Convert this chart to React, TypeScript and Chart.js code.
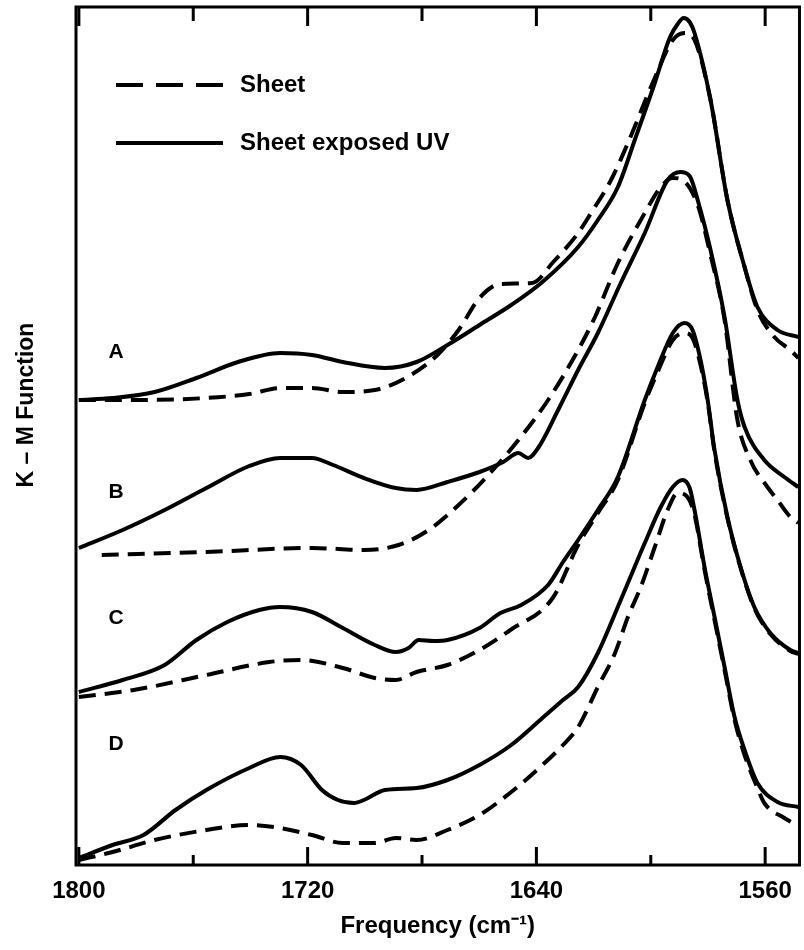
import React, { useEffect, useRef } from 'react';
import { Chart, registerables } from 'chart.js';

Chart.register(...registerables);

// ---- Data (frequency in cm^-1, K-M function in arbitrary units) ----
const aSheetX = [1800, 1780.8, 1755.4, 1740.4, 1729.6, 1718.5, 1707.7, 1696.5, 1685.7, 1674.6, 1667.2, 1659.9, 1652.6, 1641.5, 1634.1, 1625.4, 1620.9, 1613.9, 1608.0, 1598.6, 1592.3, 1588.2, 1584.7, 1579.1, 1573.2, 1567.2, 1562.7, 1556.8, 1551.2, 1548.4];
const aSheetY = [465, 465, 467, 471, 477, 477, 473, 475, 487, 510, 535, 567, 581, 582, 603, 632, 652, 685, 722, 787, 825, 832, 825, 765, 665, 598, 555, 528, 515, 507];
const aUvX = [1800, 1788.2, 1773.5, 1758.9, 1744.3, 1729.6, 1718.5, 1707.7, 1693.0, 1681.9, 1671.1, 1659.9, 1648.8, 1637.9, 1625.4, 1618.5, 1611.5, 1605.6, 1598.6, 1593.4, 1590.6, 1588.5, 1586.4, 1584.7, 1579.1, 1573.2, 1567.2, 1562.7, 1555.7, 1548.4];
const aUvY = [465, 467, 473, 487, 503, 512, 510, 503, 497, 503, 520, 540, 560, 583, 618, 645, 678, 725, 782, 827, 841, 847, 843, 832, 765, 665, 598, 558, 535, 528];

const bSheetX = [1792.0, 1755.4, 1718.5, 1700.3, 1688.2, 1677.7, 1667.2, 1656.8, 1646.3, 1635.9, 1625.4, 1619.5, 1611.5, 1602.1, 1596.5, 1592.3, 1588.9, 1583.6, 1579.1, 1574.2, 1569.7, 1565.2, 1559.2, 1555.7, 1551.2, 1548.4];
const bSheetY = [310, 313, 317, 315, 320, 335, 360, 390, 425, 465, 515, 548, 602, 652, 678, 687, 685, 660, 610, 545, 445, 405, 378, 365, 348, 342];
const bUvX = [1800, 1784.7, 1770.0, 1755.4, 1740.4, 1729.6, 1718.5, 1711.1, 1700.3, 1689.2, 1681.9, 1671.1, 1659.9, 1651.6, 1646.3, 1642.9, 1639.4, 1632.4, 1625.4, 1618.5, 1610.5, 1602.1, 1594.1, 1589.6, 1586.4, 1583.6, 1579.1, 1574.2, 1569.7, 1567.2, 1560.3, 1553.3, 1548.4];
const bUvY = [317, 335, 355, 377, 399, 407, 407, 400, 387, 377, 375, 383, 393, 403, 412, 407, 417, 455, 495, 532, 582, 632, 685, 693, 689, 665, 615, 548, 465, 438, 405, 388, 378];

const cSheetX = [1800, 1780.8, 1755.4, 1733.4, 1722.3, 1707.7, 1696.5, 1689.2, 1681.9, 1671.1, 1659.9, 1649.1, 1634.3, 1625.4, 1618.5, 1611.5, 1602.1, 1597.6, 1592.3, 1588.2, 1585.4, 1582.6, 1580.1, 1577.7, 1573.2, 1568.6, 1563.8, 1558.2, 1551.2, 1548.4];
const cSheetY = [168, 175, 190, 203, 205, 197, 187, 185, 193, 200, 215, 235, 267, 320, 352, 385, 462, 493, 525, 532, 527, 500, 463, 413, 347, 297, 257, 231, 214, 211];
const cUvX = [1800, 1784.7, 1770.0, 1758.9, 1748.1, 1736.9, 1729.6, 1718.5, 1707.7, 1696.5, 1689.2, 1684.7, 1681.2, 1676.0, 1671.1, 1659.9, 1652.6, 1645.3, 1635.9, 1630.7, 1625.4, 1618.5, 1611.5, 1602.1, 1597.6, 1592.3, 1588.2, 1585.4, 1582.6, 1580.1, 1577.7, 1573.2, 1568.6, 1563.8, 1558.2, 1551.2, 1548.4];
const cUvY = [173, 185, 200, 225, 243, 255, 258, 253, 237, 220, 213, 217, 225, 224, 225, 237, 252, 260, 280, 303, 325, 355, 388, 465, 498, 532, 542, 535, 505, 465, 415, 348, 298, 258, 232, 215, 212];

const dSheetX = [1800, 1788.2, 1773.5, 1755.4, 1740.4, 1729.6, 1718.5, 1707.7, 1696.5, 1689.2, 1681.9, 1671.1, 1659.9, 1648.8, 1637.9, 1630.7, 1625.4, 1618.5, 1612.5, 1608.0, 1603.5, 1598.6, 1594.1, 1590.6, 1587.2, 1584.7, 1581.2, 1577.7, 1574.2, 1570.7, 1567.2, 1562.7, 1560.3, 1553.3, 1548.4];
const dSheetY = [5, 13, 25, 35, 40, 37, 30, 22, 22, 27, 25, 35, 50, 73, 100, 120, 138, 178, 212, 248, 278, 318, 355, 372, 368, 350, 295, 245, 195, 145, 110, 77, 62, 47, 39];
const dUvX = [1800, 1788.2, 1777.4, 1766.2, 1755.4, 1740.4, 1729.6, 1722.3, 1715.0, 1709.4, 1703.8, 1700.3, 1693.0, 1681.9, 1671.1, 1659.9, 1648.8, 1637.9, 1630.7, 1625.4, 1618.5, 1610.5, 1602.1, 1596.5, 1592.3, 1588.9, 1586.4, 1584.7, 1581.2, 1577.7, 1574.2, 1570.7, 1567.2, 1562.7, 1555.7, 1548.4];
const dUvY = [7, 20, 30, 55, 75, 97, 108, 100, 75, 65, 62, 65, 75, 77, 85, 100, 120, 147, 165, 178, 212, 265, 322, 358, 378, 385, 377, 355, 298, 248, 198, 148, 115, 82, 63, 58];

const majorTicks = [1800, 1720, 1640, 1560];
const minorTicks = [1760, 1680, 1600];
const seriesNames = ['Sheet', 'Sheet exposed UV'];
const curveLetters = ['A', 'B', 'C', 'D'];
const letterFreq = [1787, 1787, 1787, 1787];
const letterValue = [513, 373, 247, 121];
const yTitle = 'K – M Function';
const yTitleValue = 460; // vertical centre of the rotated axis title, in K-M units

const FONT = "'Liberation Sans', Arial, sans-serif";
const SHEET_DASH = [17, 9];

const pts = (xs: number[], ys: number[]) => xs.map((x, i) => ({ x, y: ys[i] }));

const decorPlugin = {
  id: 'decor',
  afterDatasetsDraw(chart: any) {
    const { ctx, chartArea, scales } = chart;
    const { left, right, top, bottom } = chartArea;
    const x = scales.x;
    const y = scales.y;
    ctx.save();
    ctx.strokeStyle = '#000';
    ctx.fillStyle = '#000';
    ctx.lineWidth = 3;
    ctx.setLineDash([]);
    ctx.strokeRect(left, top, right - left, bottom - top);
    const drawTick = (v: number, lenB: number, lenT: number) => {
      const px = x.getPixelForValue(v);
      ctx.beginPath();
      ctx.moveTo(px, bottom);
      ctx.lineTo(px, bottom - lenB);
      ctx.moveTo(px, top);
      ctx.lineTo(px, top + lenT);
      ctx.stroke();
    };
    majorTicks.forEach((v) => drawTick(v, 18, 19));
    minorTicks.forEach((v) => drawTick(v, 10, 14));

    // legend
    ctx.lineWidth = 4;
    ctx.lineCap = 'butt';
    const lx0 = left + 40;
    const lx1 = left + 147;
    const ly0 = top + 78;
    const ly1 = top + 136;
    ctx.setLineDash([27, 13]);
    ctx.beginPath();
    ctx.moveTo(lx0, ly0);
    ctx.lineTo(lx1, ly0);
    ctx.stroke();
    ctx.setLineDash([]);
    ctx.beginPath();
    ctx.moveTo(lx0, ly1);
    ctx.lineTo(lx1, ly1);
    ctx.stroke();
    ctx.font = `bold 24px ${FONT}`;
    ctx.textAlign = 'left';
    ctx.textBaseline = 'middle';
    ctx.fillText(seriesNames[0], left + 164, ly0);
    ctx.fillText(seriesNames[1], left + 164, ly1);

    // curve letters
    ctx.font = `bold 21px ${FONT}`;
    ctx.textAlign = 'center';
    curveLetters.forEach((l, i) => {
      ctx.fillText(l, x.getPixelForValue(letterFreq[i]), y.getPixelForValue(letterValue[i]));
    });

    // y axis title (rotated)
    ctx.save();
    ctx.translate(left - 49, y.getPixelForValue(yTitleValue));
    ctx.rotate(-Math.PI / 2);
    ctx.font = `bold 23px ${FONT}`;
    ctx.textAlign = 'center';
    ctx.textBaseline = 'middle';
    ctx.fillText(yTitle, 0, 0);
    ctx.restore();

    ctx.restore();
  },
};

export default function App() {
  const ref = useRef<HTMLCanvasElement | null>(null);
  useEffect(() => {
    document.body.style.margin = '0';
    if (!ref.current) return;
    const mk = (label: string, xs: number[], ys: number[], dashed: boolean) => ({
      label,
      data: pts(xs, ys),
      borderColor: '#000',
      backgroundColor: '#000',
      borderWidth: 4,
      borderDash: dashed ? SHEET_DASH : [],
      pointRadius: 0,
      fill: false,
      cubicInterpolationMode: 'monotone' as const,
    });
    const chart = new Chart(ref.current, {
      type: 'line',
      data: {
        datasets: [
          mk('A ' + seriesNames[0], aSheetX, aSheetY, true),
          mk('A ' + seriesNames[1], aUvX, aUvY, false),
          mk('B ' + seriesNames[0], bSheetX, bSheetY, true),
          mk('B ' + seriesNames[1], bUvX, bUvY, false),
          mk('C ' + seriesNames[0], cSheetX, cSheetY, true),
          mk('C ' + seriesNames[1], cUvX, cUvY, false),
          mk('D ' + seriesNames[0], dSheetX, dSheetY, true),
          mk('D ' + seriesNames[1], dUvX, dUvY, false),
        ],
      },
      options: {
        animation: false,
        responsive: false,
        devicePixelRatio: 1,
        layout: { padding: { top: 7, right: 3, left: 0, bottom: 0 } },
        plugins: { legend: { display: false }, tooltip: { enabled: false } },
        scales: {
          x: {
            type: 'linear',
            reverse: true,
            min: 1548,
            max: 1801,
            afterBuildTicks: (s: any) => {
              s.ticks = [...majorTicks, ...minorTicks].sort((a, b) => b - a).map((v) => ({ value: v }));
            },
            afterFit: (s: any) => {
              s.height = 85;
            },
            grid: { display: false, drawTicks: false },
            border: { display: false },
            ticks: {
              autoSkip: false,
              maxRotation: 0,
              padding: 12,
              color: '#000',
              font: { family: FONT, size: 24, weight: 'bold' },
              callback: (v: any) => (majorTicks.includes(Number(v)) ? String(v) : ''),
            },
            title: {
              display: true,
              text: 'Frequency (cm⁻¹)',
              color: '#000',
              font: { family: FONT, size: 24, weight: 'bold' },
              padding: { top: 0, bottom: 9 },
            },
          },
          y: {
            min: 0,
            max: 858,
            afterFit: (s: any) => {
              s.width = 76;
            },
            grid: { display: false, drawTicks: false },
            border: { display: false },
            ticks: { display: false },
            title: { display: false },
          },
        },
      },
      plugins: [decorPlugin],
    });
    return () => chart.destroy();
  }, []);
  return (
    <div style={{ position: 'absolute', left: 0, top: 0, width: 804, height: 950, background: '#fff' }}>
      <canvas ref={ref} width={804} height={950} style={{ display: 'block' }} />
    </div>
  );
}
